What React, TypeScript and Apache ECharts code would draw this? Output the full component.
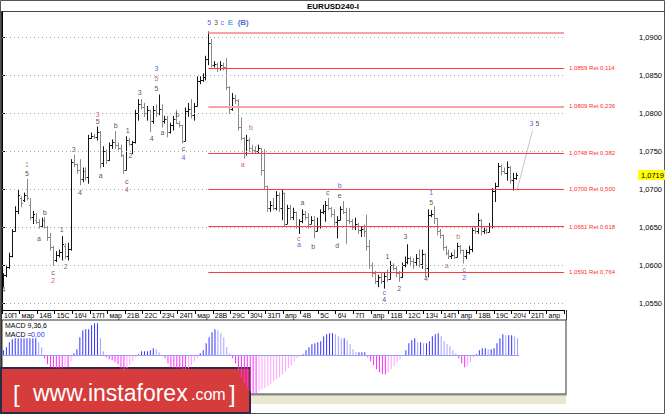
import React, { useEffect, useRef } from 'react';
import * as echarts from 'echarts';

const dayLabels = ['10П', 'мар', '14В', '15С', '16Ч', '17П', 'мар', '21В', '22С', '23Ч', '24П', 'мар', '28В', '29С', '30Ч', '31П', 'апр', '4В', '5С', '6Ч', '7П', 'апр', '11В', '12С', '13Ч', '14П', 'апр', '18В', '19С', '20Ч', '21П', 'апр'];

const priceTicks = [1.055, 1.06, 1.065, 1.07, 1.075, 1.08, 1.085, 1.09];

// H4 bars: [open, high, low, close]
const bars: number[][] = [
  [1.0574, 1.0589, 1.0572, 1.0587], [1.0587, 1.0600, 1.0585, 1.0598], [1.0598, 1.0616, 1.0596, 1.0612], [1.0612, 1.0647, 1.0611, 1.0645], [1.0645, 1.0677, 1.0645, 1.0672],
  [1.0672, 1.0699, 1.0668, 1.0692], [1.0689, 1.0690, 1.0677, 1.0682], [1.0686, 1.0695, 1.0684, 1.0693], [1.0693, 1.0713, 1.0686, 1.0688], [1.0680, 1.0688, 1.0660, 1.0664],
  [1.0664, 1.0671, 1.0655, 1.0668], [1.0660, 1.0668, 1.0655, 1.0657], [1.0657, 1.0660, 1.0649, 1.0652], [1.0652, 1.0662, 1.0651, 1.0660], [1.0660, 1.0663, 1.0649, 1.0651],
  [1.0651, 1.0651, 1.0633, 1.0637], [1.0637, 1.0642, 1.0620, 1.0624], [1.0624, 1.0625, 1.0600, 1.0607], [1.0607, 1.0618, 1.0605, 1.0614], [1.0614, 1.0620, 1.0611, 1.0617],
  [1.0617, 1.0638, 1.0607, 1.0628], [1.0626, 1.0628, 1.0609, 1.0612], [1.0612, 1.0629, 1.0607, 1.0622], [1.0622, 1.0739, 1.0620, 1.0736], [1.0736, 1.0745, 1.0730, 1.0733],
  [1.0733, 1.0733, 1.0721, 1.0725], [1.0725, 1.0739, 1.0706, 1.0713], [1.0713, 1.0728, 1.0710, 1.0724], [1.0724, 1.0728, 1.0712, 1.0716], [1.0716, 1.0771, 1.0708, 1.0768],
  [1.0768, 1.0774, 1.0767, 1.0770], [1.0770, 1.0772, 1.0767, 1.0769], [1.0769, 1.0782, 1.0765, 1.0775], [1.0775, 1.0776, 1.0728, 1.0735], [1.0735, 1.0756, 1.0730, 1.0750],
  [1.0750, 1.0752, 1.0734, 1.0738], [1.0738, 1.0761, 1.0738, 1.0758], [1.0758, 1.0765, 1.0754, 1.0762], [1.0762, 1.0776, 1.0754, 1.0758], [1.0758, 1.0761, 1.0752, 1.0755],
  [1.0755, 1.0758, 1.0743, 1.0745], [1.0745, 1.0745, 1.0721, 1.0726], [1.0726, 1.0769, 1.0726, 1.0765], [1.0765, 1.0767, 1.0758, 1.0760], [1.0760, 1.0763, 1.0747, 1.0762],
  [1.0762, 1.0804, 1.0761, 1.0800], [1.0800, 1.0818, 1.0791, 1.0812], [1.0812, 1.0818, 1.0806, 1.0808], [1.0808, 1.0813, 1.0796, 1.0800], [1.0800, 1.0809, 1.0791, 1.0804],
  [1.0804, 1.0804, 1.0776, 1.0790], [1.0790, 1.0809, 1.0787, 1.0805], [1.0805, 1.0811, 1.0796, 1.0800], [1.0800, 1.0824, 1.0798, 1.0806], [1.0806, 1.0811, 1.0782, 1.0790],
  [1.0790, 1.0796, 1.0787, 1.0792], [1.0792, 1.0796, 1.0769, 1.0775], [1.0775, 1.0787, 1.0774, 1.0784], [1.0784, 1.0796, 1.0778, 1.0793], [1.0793, 1.0804, 1.0787, 1.0787],
  [1.0787, 1.0789, 1.0782, 1.0784], [1.0784, 1.0784, 1.0761, 1.0764], [1.0764, 1.0807, 1.0764, 1.0803], [1.0803, 1.0813, 1.0796, 1.0806], [1.0806, 1.0818, 1.0794, 1.0798],
  [1.0798, 1.0813, 1.0791, 1.0810], [1.0810, 1.0848, 1.0810, 1.0843], [1.0843, 1.0848, 1.0839, 1.0844], [1.0844, 1.0852, 1.0842, 1.0848], [1.0848, 1.0875, 1.0844, 1.0871],
  [1.0871, 1.0907, 1.0864, 1.0893], [1.0893, 1.0897, 1.0861, 1.0864], [1.0864, 1.0868, 1.0861, 1.0865], [1.0865, 1.0866, 1.0855, 1.0860], [1.0860, 1.0868, 1.0857, 1.0864],
  [1.0864, 1.0866, 1.0857, 1.0861], [1.0861, 1.0872, 1.0831, 1.0835], [1.0835, 1.0835, 1.0800, 1.0806], [1.0806, 1.0826, 1.0804, 1.0820], [1.0820, 1.0824, 1.0813, 1.0817],
  [1.0817, 1.0818, 1.0778, 1.0782], [1.0782, 1.0794, 1.0765, 1.0768], [1.0768, 1.0768, 1.0741, 1.0748], [1.0748, 1.0771, 1.0745, 1.0765], [1.0765, 1.0767, 1.0750, 1.0755],
  [1.0755, 1.0758, 1.0747, 1.0752], [1.0752, 1.0756, 1.0747, 1.0750], [1.0750, 1.0758, 1.0747, 1.0754], [1.0754, 1.0754, 1.0719, 1.0725], [1.0725, 1.0752, 1.0701, 1.0704],
  [1.0704, 1.0704, 1.0671, 1.0676], [1.0676, 1.0684, 1.0671, 1.0680], [1.0680, 1.0688, 1.0673, 1.0675], [1.0675, 1.0697, 1.0673, 1.0693], [1.0693, 1.0695, 1.0671, 1.0676],
  [1.0676, 1.0699, 1.0660, 1.0695], [1.0695, 1.0695, 1.0651, 1.0655], [1.0655, 1.0679, 1.0655, 1.0675], [1.0675, 1.0679, 1.0660, 1.0664], [1.0664, 1.0675, 1.0660, 1.0670],
  [1.0670, 1.0670, 1.0649, 1.0652], [1.0652, 1.0660, 1.0642, 1.0658], [1.0658, 1.0673, 1.0656, 1.0668], [1.0668, 1.0671, 1.0660, 1.0664], [1.0664, 1.0668, 1.0649, 1.0655],
  [1.0655, 1.0664, 1.0655, 1.0660], [1.0660, 1.0664, 1.0636, 1.0645], [1.0645, 1.0662, 1.0645, 1.0652], [1.0652, 1.0673, 1.0649, 1.0670], [1.0670, 1.0679, 1.0668, 1.0672],
  [1.0672, 1.0684, 1.0658, 1.0680], [1.0680, 1.0688, 1.0673, 1.0676], [1.0676, 1.0676, 1.0664, 1.0668], [1.0668, 1.0673, 1.0653, 1.0657], [1.0657, 1.0664, 1.0636, 1.0660],
  [1.0660, 1.0677, 1.0660, 1.0674], [1.0674, 1.0684, 1.0668, 1.0670], [1.0670, 1.0675, 1.0629, 1.0660], [1.0660, 1.0675, 1.0655, 1.0658], [1.0658, 1.0660, 1.0647, 1.0650],
  [1.0650, 1.0662, 1.0647, 1.0655], [1.0655, 1.0655, 1.0642, 1.0646], [1.0646, 1.0651, 1.0638, 1.0648], [1.0648, 1.0653, 1.0638, 1.0645], [1.0645, 1.0666, 1.0620, 1.0625],
  [1.0625, 1.0633, 1.0596, 1.0600], [1.0600, 1.0603, 1.0585, 1.0590], [1.0590, 1.0592, 1.0576, 1.0580], [1.0580, 1.0587, 1.0572, 1.0584], [1.0584, 1.0590, 1.0576, 1.0579],
  [1.0579, 1.0590, 1.0570, 1.0586], [1.0586, 1.0594, 1.0579, 1.0582], [1.0582, 1.0605, 1.0582, 1.0600], [1.0600, 1.0602, 1.0594, 1.0596], [1.0596, 1.0598, 1.0585, 1.0590],
  [1.0590, 1.0592, 1.0579, 1.0584], [1.0584, 1.0603, 1.0584, 1.0600], [1.0600, 1.0611, 1.0598, 1.0605], [1.0605, 1.0627, 1.0602, 1.0610], [1.0610, 1.0611, 1.0600, 1.0606],
  [1.0606, 1.0609, 1.0596, 1.0604], [1.0604, 1.0614, 1.0600, 1.0610], [1.0610, 1.0620, 1.0598, 1.0602], [1.0602, 1.0620, 1.0596, 1.0615], [1.0615, 1.0615, 1.0585, 1.0596],
  [1.0596, 1.0673, 1.0585, 1.0666], [1.0666, 1.0672, 1.0664, 1.0668], [1.0668, 1.0677, 1.0655, 1.0662], [1.0662, 1.0662, 1.0640, 1.0645], [1.0645, 1.0647, 1.0636, 1.0640],
  [1.0640, 1.0640, 1.0620, 1.0624], [1.0624, 1.0625, 1.0614, 1.0616], [1.0616, 1.0620, 1.0609, 1.0612], [1.0612, 1.0616, 1.0609, 1.0613], [1.0613, 1.0620, 1.0609, 1.0611],
  [1.0611, 1.0629, 1.0611, 1.0626], [1.0626, 1.0626, 1.0616, 1.0620], [1.0620, 1.0620, 1.0603, 1.0612], [1.0612, 1.0620, 1.0609, 1.0617], [1.0617, 1.0625, 1.0615, 1.0622],
  [1.0622, 1.0649, 1.0618, 1.0646], [1.0646, 1.0651, 1.0642, 1.0645], [1.0645, 1.0668, 1.0642, 1.0660], [1.0660, 1.0660, 1.0640, 1.0645], [1.0645, 1.0649, 1.0642, 1.0647],
  [1.0647, 1.0648, 1.0642, 1.0644], [1.0644, 1.0655, 1.0644, 1.0652], [1.0652, 1.0701, 1.0649, 1.0698], [1.0698, 1.0708, 1.0684, 1.0704], [1.0704, 1.0734, 1.0704, 1.0731],
  [1.0731, 1.0732, 1.0719, 1.0724], [1.0724, 1.0728, 1.0721, 1.0722], [1.0722, 1.0736, 1.0712, 1.0730], [1.0730, 1.0730, 1.0708, 1.0712], [1.0712, 1.0721, 1.0699, 1.0715],
  [1.0715, 1.0721, 1.0713, 1.0719],
];

// MACD(9,36,6) main line, in pips
const macdPips = [
  5, 8, 13, 16, 17, 17, 17, 17, 17, 17,
  17, 17, 13, 8, -3, -9, -12, -13, -13, -13,
  -13, -12, -12, -6, 2, 6, 18, 25, 26, 26,
  30, 32, 32, 17, 4, -2, -4, -5, -7, -9,
  -13, -15, -13, -10, -6, -2, 1, 4, 4, 4,
  5, 7, 6, 3, -1, -3, -8, -12, -13, -13,
  -13, -14, -14, -13, -10, -6, -3, 2, 5, 12,
  18, 23, 26, 25, 22, 18, 8, 2, -3, -8,
  -15, -22, -28, -33, -36, -38, -38, -36, -34, -33,
  -31, -29, -26, -24, -22, -19, -16, -13, -10, -6,
  -3, -1, 1, 5, 8, 11, 12, 13, 14, 19,
  21, 22, 22, 21, 19, 17, 17, 15, 11, 6,
  3, 3, 3, 3, -2, -6, -10, -14, -17, -19,
  -19, -17, -14, -11, -7, -4, -1, 5, 12, 15,
  17, 13, 13, 12, 12, 14, 19, 21, 22, 19,
  14, 11, 9, 5, 2, -3, -8, -12, -11, -7,
  -2, 1, 5, 7, 7, 6, 6, 7, 12, 17,
  21, 20, 20, 20, 19, 17,
];

const fibPrices = [1.0906, 1.0859, 1.0809, 1.0748, 1.0700, 1.0651, 1.0591];
const fibRatios = [0, 0.114, 0.236, 0.382, 0.5, 0.618, 0.764];
const fibStartBar = 70;
const projection = [[176, 1.0700], [181.2, 1.0777]];
const lastPrice = 1.0719;

const C = {
  dark: '#1e1e1e', blue: '#2d2dff', red: '#c0392b', orange: '#c8651b', purple: '#7b2d5e',
  cyan: '#1e9be0', brown: '#a0522d', slate: '#3a4a8a', navy: '#2046c8',
};

// [x (bar units), price, text, colour, fontSize, bold]
const waveLabels: [number, number, string, string, number, boolean][] = [
  [0.5, 1.0568, '4', C.dark, 7, false],
  [8.5, 1.0733, '1', C.orange, 7, false],
  [8.5, 1.0721, '5', C.dark, 7, false],
  [14.6, 1.0670, 'b', C.dark, 7, false],
  [12.6, 1.0635, 'a', C.dark, 7, false],
  [20.4, 1.0647, '1', C.dark, 7, false],
  [17.4, 1.0591, 'c', C.dark, 7, false],
  [17.4, 1.0580, '2', C.red, 7, false],
  [21.8, 1.0598, '2', C.slate, 7, false],
  [24.5, 1.0753, '3', C.dark, 7, false],
  [26.6, 1.0696, '4', C.dark, 7, false],
  [32.7, 1.0799, '3', C.red, 7, false],
  [32.7, 1.0789, '5', C.dark, 7, false],
  [33.7, 1.0718, 'a', C.dark, 7, false],
  [38.8, 1.0784, 'b', C.dark, 7, false],
  [42.9, 1.0778, '1', C.dark, 7, false],
  [43.9, 1.0744, '2', C.dark, 7, false],
  [42.6, 1.0710, 'c', C.dark, 7, false],
  [42.6, 1.0700, '4', C.purple, 7, false],
  [47.0, 1.0828, '3', C.dark, 7, false],
  [52.8, 1.0859, '3', C.blue, 7, false],
  [52.8, 1.0846, '5', C.red, 7, false],
  [52.8, 1.0833, '5', C.dark, 7, false],
  [51.1, 1.0767, '4', C.dark, 7, false],
  [54.8, 1.0775, 'a', C.dark, 7, false],
  [59.9, 1.0799, 'b', C.dark, 7, false],
  [62.0, 1.0754, 'c', C.dark, 7, false],
  [62.0, 1.0742, '4', C.blue, 7, false],
  [70.8, 1.0919, '5', C.blue, 7, false],
  [73.1, 1.0919, '3', C.dark, 7, false],
  [75.2, 1.0919, 'c', C.blue, 7, false],
  [78.0, 1.0919, 'E', C.cyan, 8, true],
  [82.4, 1.0919, '(B)', C.navy, 8, true],
  [85.0, 1.0781, 'b', C.red, 7, false],
  [82.2, 1.0732, 'a', C.red, 7, false],
  [101.4, 1.0635, 'c', C.red, 7, false],
  [101.4, 1.0627, 'a', C.blue, 7, false],
  [102.6, 1.0682, 'a', C.dark, 7, false],
  [106.3, 1.0625, 'b', C.dark, 7, false],
  [111.3, 1.0696, 'c', C.dark, 7, false],
  [115.4, 1.0705, 'b', C.blue, 7, false],
  [115.4, 1.0692, 'e', C.dark, 7, false],
  [114.5, 1.0626, 'd', C.dark, 7, false],
  [131.7, 1.0612, '1', C.dark, 7, false],
  [137.8, 1.0638, '3', C.dark, 7, false],
  [135.7, 1.0570, '2', C.dark, 7, false],
  [130.6, 1.0564, 'c', C.blue, 7, false],
  [130.6, 1.0555, '4', C.dark, 7, false],
  [144.8, 1.0582, '4', C.dark, 7, false],
  [146.6, 1.0696, '1', C.blue, 7, false],
  [146.6, 1.0682, '5', C.dark, 7, false],
  [155.8, 1.0638, 'b', C.brown, 7, false],
  [151.9, 1.0600, 'a', C.brown, 7, false],
  [157.9, 1.0595, 'c', C.brown, 7, false],
  [157.9, 1.0584, '2', C.blue, 7, false],
  [180.9, 1.0786, '3', C.blue, 7, false],
  [182.9, 1.0786, '5', C.dark, 7, false],
];

const FONT = '"Liberation Sans", Arial, sans-serif';

export default function App() {
  const ref = useRef<HTMLDivElement>(null);

  useEffect(() => {
    if (!ref.current) return;
    const chart = echarts.init(ref.current, null, { renderer: 'svg' });

    const fmt = (p: number, d: number) => p.toFixed(d).replace('.', ',');
    const ohlcData = bars.map((b, i) => [i + 0.5, b[0], b[1], b[2], b[3]]);
    const macdData = macdPips.map((v, i) => {
      const prev = i > 0 ? macdPips[i - 1] : 0;
      let color: string;
      if (v >= 0) color = v >= prev ? '#3434ff' : '#a2a2ff';
      else color = v <= prev ? '#ff2eff' : '#ffa2ff';
      return { value: [i + 0.5, v], itemStyle: { color } };
    });

    const gridLines = priceTicks.map((p) => [
      { coord: [0, p], lineStyle: { color: '#a8a8a8', width: 1, type: [1, 3] }, label: { show: false } },
      { coord: [192, p] },
    ]);
    const fibLines = fibPrices.map((p, k) => {
      const pink = k === 0 || k === 2;
      return [
        {
          coord: [fibStartBar + 0.5, p],
          lineStyle: { color: pink ? '#f6a4a4' : '#ff3b3b', width: pink ? 2 : 1, type: 'solid' },
          label: {
            show: fibRatios[k] > 0, position: 'end', distance: 5,
            formatter: `${fmt(p, 4)} Ret ${fmt(fibRatios[k], 3)}`,
            color: '#ff2b2b', fontSize: 6, fontFamily: FONT,
          },
        },
        { coord: [192, p] },
      ];
    });

    const option: any = {
      animation: false,
      backgroundColor: '#ffffff',
      textStyle: { fontFamily: FONT },
      grid: [
        { left: 2, right: 99, top: 12, height: 298, show: false },
        { left: 2, right: 99, top: 320, height: 74, show: true, borderColor: '#333', borderWidth: 1, backgroundColor: 'transparent' },
      ],
      xAxis: [
        {
          type: 'value', gridIndex: 0, min: 0, max: 192, interval: 6,
          axisLine: { show: true, onZero: false, lineStyle: { color: '#000', width: 1 } },
          axisTick: { show: true, length: 4, lineStyle: { color: '#000' } },
          axisLabel: {
            show: true, fontSize: 7, color: '#000', align: 'left', margin: 2, padding: [0, 0, 0, 2],
            formatter: (v: number) => dayLabels[Math.round(v / 6)] ?? '',
          },
          splitLine: { show: false },
        },
        { type: 'value', gridIndex: 1, min: 0, max: 192, show: false },
      ],
      yAxis: [
        {
          type: 'value', gridIndex: 0, position: 'right', offset: 72, min: 1.05412, max: 1.09333,
          axisLine: { show: true, lineStyle: { color: '#000' } },
          axisTick: { show: true, length: 3, customValues: priceTicks, lineStyle: { color: '#000' } },
          axisLabel: { customValues: priceTicks, fontSize: 7.5, color: '#000', margin: 3, formatter: (v: number) => fmt(v, 4) },
          splitLine: { show: false },
        },
        { type: 'value', gridIndex: 1, min: -38.7, max: 35.3, show: false },
      ],
      series: [
        {
          type: 'line', xAxisIndex: 0, yAxisIndex: 0, data: projection, symbol: 'none', silent: true, z: 1,
          lineStyle: { color: '#c8c3dc', width: 1 },
          markLine: { silent: true, symbol: ['none', 'none'], animation: false, data: [...gridLines, ...fibLines] },
        },
        {
          type: 'custom', xAxisIndex: 0, yAxisIndex: 0, data: ohlcData, z: 3, silent: true, clip: true,
          encode: { x: 0, y: [1, 2, 3, 4] },
          renderItem: (_p: any, api: any) => {
            const x = api.value(0), o = api.value(1), h = api.value(2), l = api.value(3), c = api.value(4);
            const top = api.coord([x, h]);
            const bot = api.coord([x, l]);
            const po = api.coord([x, o]);
            const pc = api.coord([x, c]);
            const X = Math.round(top[0]) + 0.5;
            const color = c >= o ? '#151515' : '#8a8a8a';
            const yo = Math.round(po[1]) + 0.5;
            const yc = Math.round(pc[1]) + 0.5;
            return {
              type: 'group',
              children: [
                { type: 'line', shape: { x1: X, y1: top[1] - 0.5, x2: X, y2: bot[1] + 0.5 }, style: { stroke: color, lineWidth: 1 } },
                { type: 'line', shape: { x1: X - 1.5, y1: yo, x2: X, y2: yo }, style: { stroke: color, lineWidth: 1 } },
                { type: 'line', shape: { x1: X, y1: yc, x2: X + 1.5, y2: yc }, style: { stroke: color, lineWidth: 1 } },
              ],
            };
          },
        },
        {
          type: 'scatter', xAxisIndex: 0, yAxisIndex: 0, symbol: 'rect', symbolSize: 1, silent: true, z: 4,
          itemStyle: { color: 'rgba(0,0,0,0)' },
          data: waveLabels.map((w) => ({
            value: [w[0], w[1]],
            label: {
              show: true, position: 'inside', formatter: w[2], color: w[3],
              fontSize: w[4], fontWeight: w[5] ? 'bold' : 'normal', fontFamily: FONT,
            },
          })),
        },
        {
          type: 'bar', xAxisIndex: 1, yAxisIndex: 1, data: macdData, barWidth: 1, silent: true, z: 3,
          markLine: {
            silent: true, symbol: ['none', 'none'], animation: false,
            data: [[{ coord: [0, 0], lineStyle: { color: '#9a9aff', width: 1, type: 'solid' }, label: { show: false } }, { coord: [macdPips.length, 0] }]],
          },
        },
      ],
    };
    chart.setOption(option);

    const tagPt = chart.convertToPixel({ gridIndex: 0 }, [0, lastPrice]) as number[];
    const tagY = Math.round(tagPt[1]);

    chart.setOption({
      graphic: [
        { type: 'rect', silent: true, shape: { x: 0.5, y: 0.5, width: 664, height: 413 }, style: { fill: 'none', stroke: '#555', lineWidth: 1 } },
        { type: 'line', silent: true, shape: { x1: 0, y1: 11.5, x2: 665, y2: 11.5 }, style: { stroke: '#444', lineWidth: 1 } },
        { type: 'line', silent: true, shape: { x1: 1.5, y1: 12, x2: 1.5, y2: 394 }, style: { stroke: '#333', lineWidth: 1 } },
        { type: 'line', silent: true, shape: { x1: 566.5, y1: 310, x2: 566.5, y2: 320 }, style: { stroke: '#333', lineWidth: 1 } },
        { type: 'text', silent: true, x: 333, y: 6, style: { text: 'EURUSD240-I', fill: '#000', fontSize: 8, fontWeight: 'bold', fontFamily: FONT, align: 'center', verticalAlign: 'middle' } },
        { type: 'text', silent: true, x: 5, y: 322, style: { text: 'MACD 9,36,6', fill: '#000', fontSize: 7, fontFamily: FONT, align: 'left', verticalAlign: 'top' } },
        { type: 'text', silent: true, x: 5, y: 331, style: { text: 'MACD =', fill: '#000', fontSize: 7, fontFamily: FONT, align: 'left', verticalAlign: 'top' } },
        { type: 'text', silent: true, x: 31, y: 331, style: { text: '0,00', fill: '#2d2dff', fontSize: 7, fontFamily: FONT, align: 'left', verticalAlign: 'top' } },
        { type: 'rect', silent: true, shape: { x: 251, y: 396, width: 315, height: 8 }, style: { fill: '#ebe8d2' } },
        { type: 'line', silent: true, shape: { x1: 251, y1: 395, x2: 567, y2: 395 }, style: { stroke: '#777', lineWidth: 1 } },
        { type: 'rect', silent: true, shape: { x: 1, y: 368, width: 249, height: 45 }, style: { fill: '#d63c3c', stroke: '#2c2c48', lineWidth: 2 } },
        { type: 'text', silent: true, x: 13, y: 405, style: { text: '[', fill: '#fff', fontSize: 24, fontFamily: FONT, align: 'left', verticalAlign: 'bottom' } },
        { type: 'text', silent: true, x: 33, y: 404, style: { text: 'www.instaforex', fill: '#fff', fontSize: 23, fontFamily: FONT, align: 'left', verticalAlign: 'bottom' } },
        { type: 'text', silent: true, x: 191, y: 402, style: { text: '.com', fill: '#fff', fontSize: 16, fontFamily: FONT, align: 'left', verticalAlign: 'bottom' } },
        { type: 'text', silent: true, x: 229, y: 405, style: { text: ']', fill: '#fff', fontSize: 24, fontFamily: FONT, align: 'left', verticalAlign: 'bottom' } },
        { type: 'rect', silent: true, shape: { x: 638, y: tagY - 5, width: 27, height: 10 }, style: { fill: '#ffff00' } },
        { type: 'text', silent: true, x: 641, y: tagY, style: { text: fmt(lastPrice, 4), fill: '#000', fontSize: 7.5, fontFamily: FONT, align: 'left', verticalAlign: 'middle' } },
      ],
    });

    return () => chart.dispose();
  }, []);

  return <div ref={ref} style={{ position: 'absolute', left: 0, top: 0, width: 665, height: 414 }} />;
}
